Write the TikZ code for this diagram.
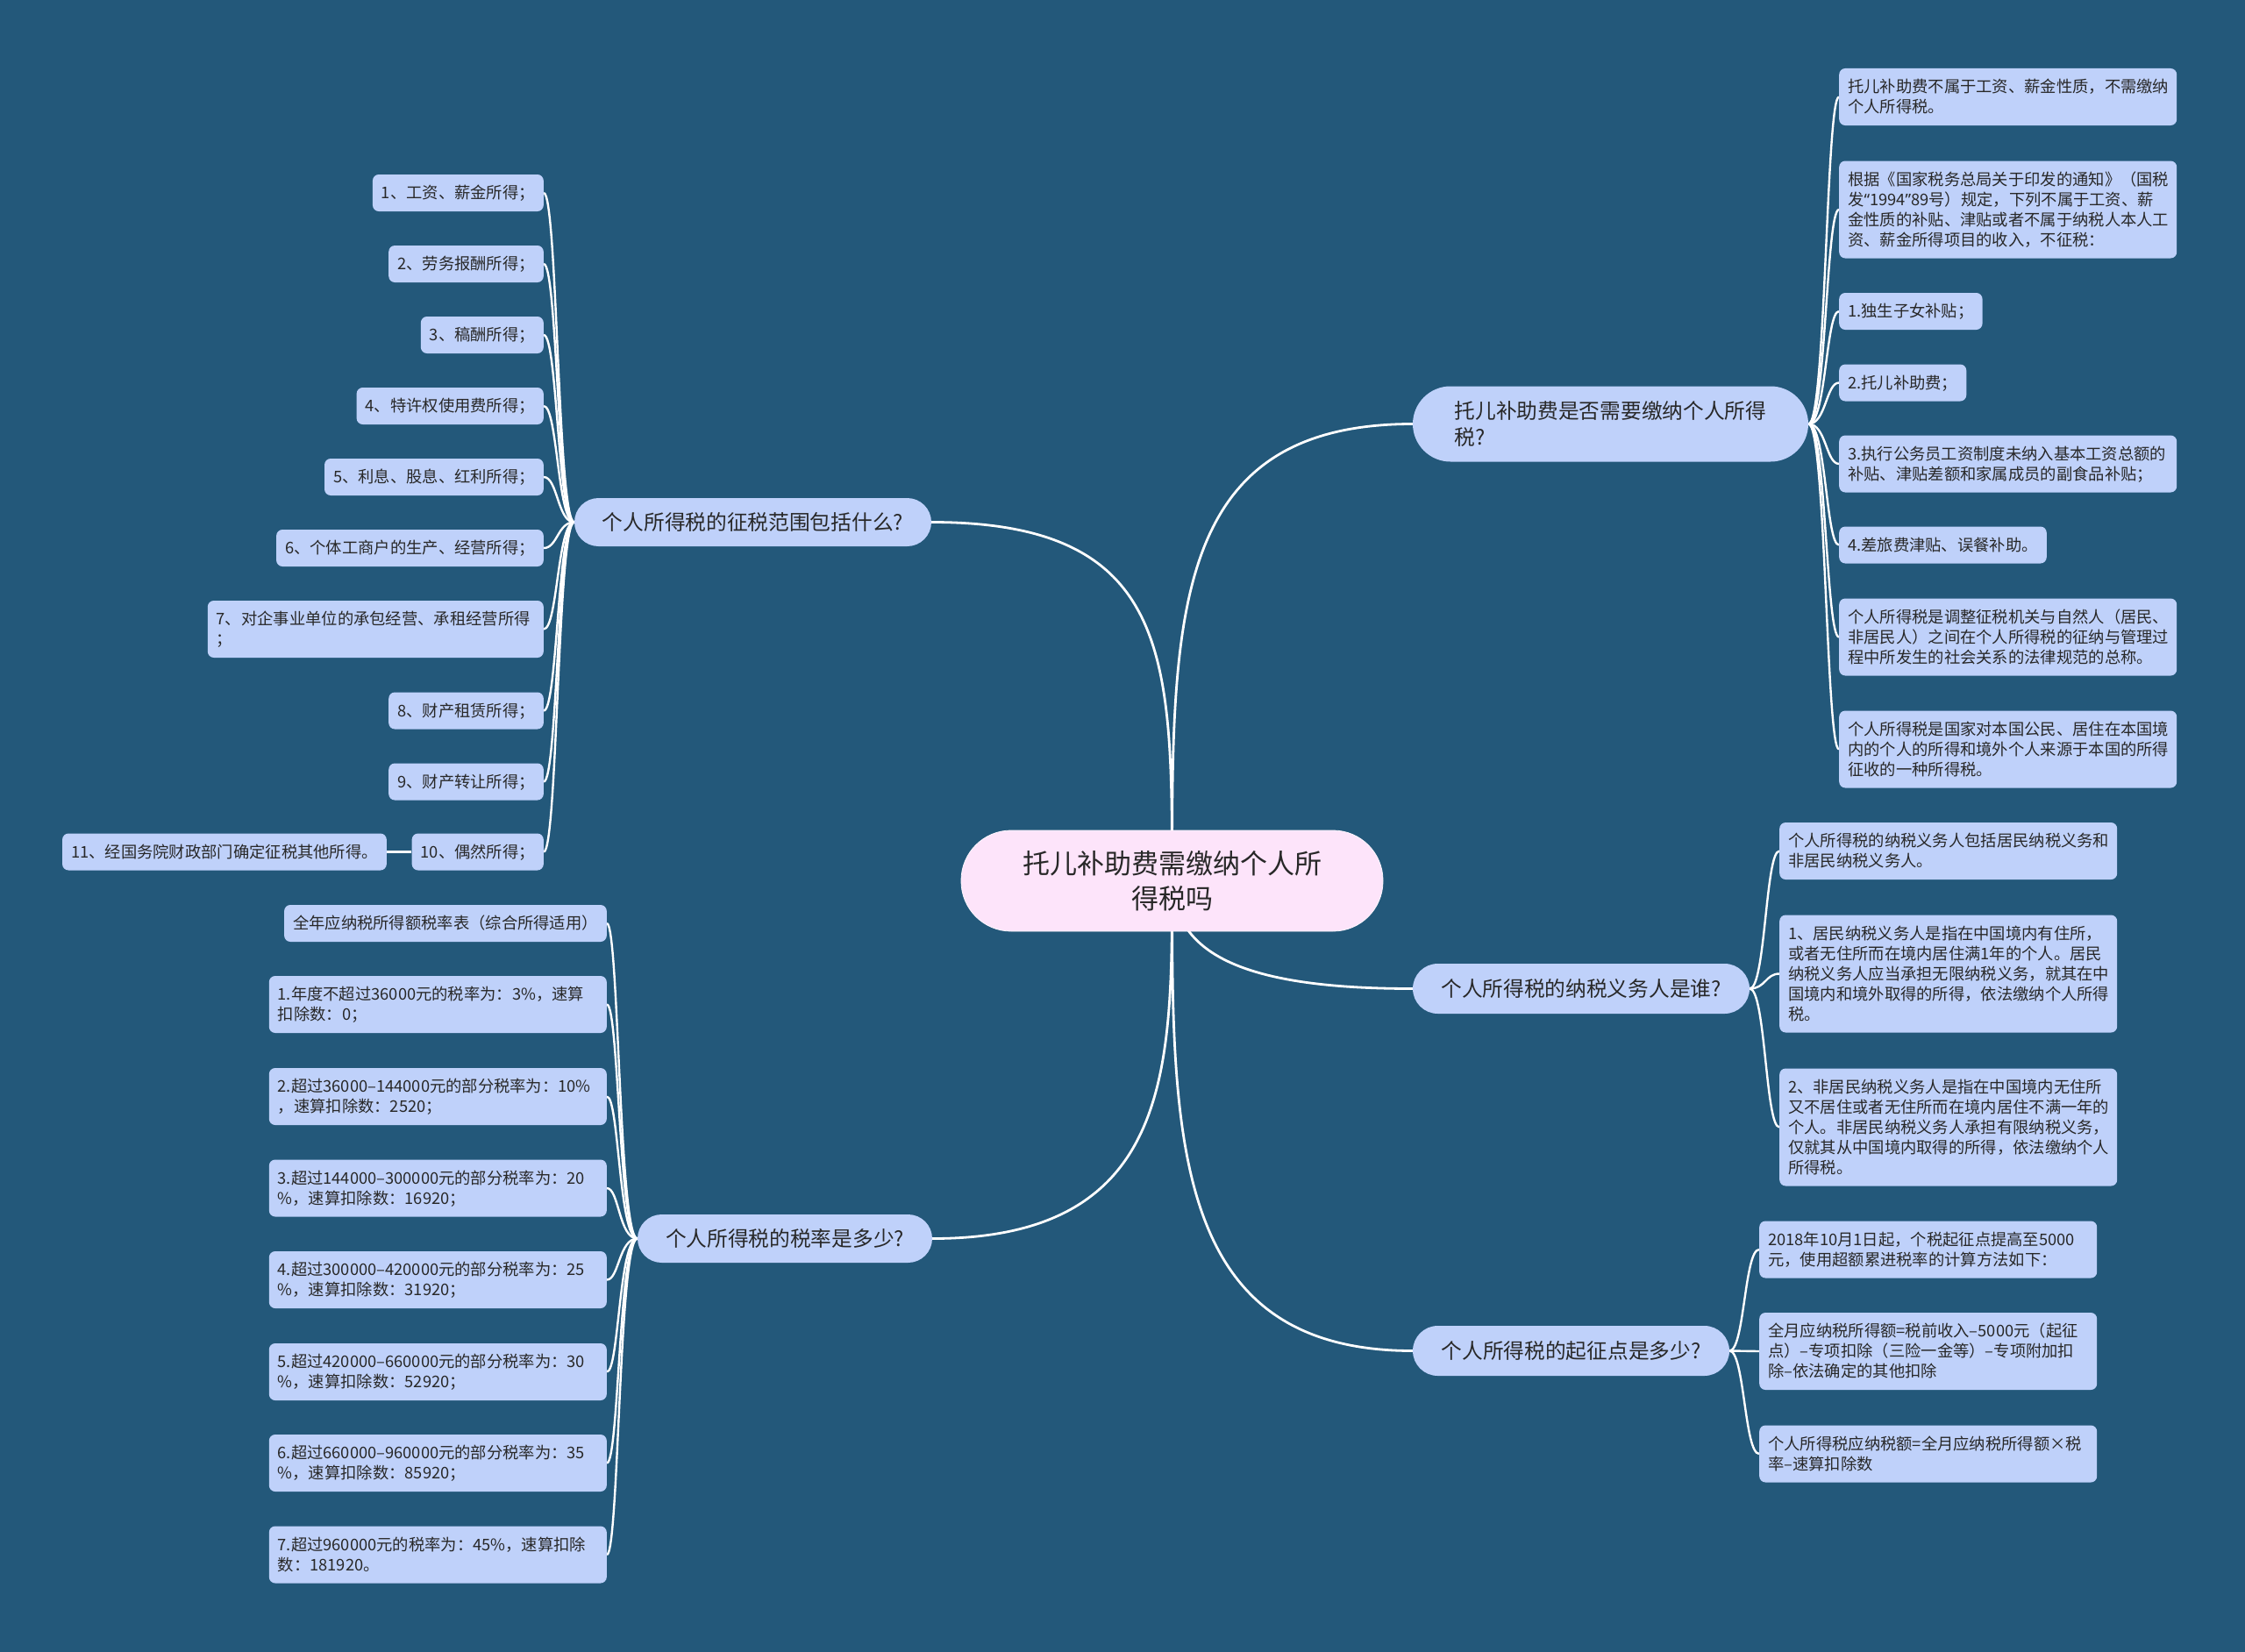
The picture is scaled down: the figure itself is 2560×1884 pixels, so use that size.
\documentclass[tikz,border=0pt]{standalone}
\usepackage{fontspec}
\setmainfont{Noto Sans CJK SC}
\newfontfamily\qfont{Noto Sans}
\usetikzlibrary{calc,backgrounds}
\definecolor{bgc}{RGB}{35,88,122}
\definecolor{leafc}{RGB}{191,209,250}
\definecolor{pinkc}{RGB}{253,228,250}
\definecolor{txtc}{RGB}{40,40,40}
\newcommand\lfont{\fontsize{18.3}{23}\selectfont}
\newcommand\brfont{\fontsize{23.7}{30}\selectfont}
\newcommand\ctfont{\fontsize{31}{40}\selectfont}
\newcommand\st{\vrule height 18pt depth 5pt width 0pt\relax}
\tikzset{
  leaf/.style={fill=leafc, rounded corners=7pt, inner xsep=10pt, inner ysep=9.5pt, font=\lfont, text=txtc, align=left},
  leafw/.style={leaf, text width=365pt},
  branch/.style={fill=leafc, inner sep=0pt, font=\brfont, text=txtc, align=left},
  ctr/.style={fill=pinkc, draw=white!70!pinkc, line width=0.8pt, inner sep=0pt, font=\ctfont, text=txtc, align=center,
    minimum width=481pt, minimum height=115pt, rounded corners=57pt},
  link/.style={draw=white, line width=2.8pt},
  sublink/.style={draw=white, line width=2.4pt},
}
\begin{document}
\begin{tikzpicture}[x=1pt,y=-1pt]
\useasboundingbox (0,0) rectangle (2560,1884);

% central
\node[ctr] (c) at (1336.5,1004.5) {托儿补助费需缴纳个人所\\得税吗};

% branches
\node[branch, minimum width=451pt, minimum height=86pt, rounded corners=43pt] (b1) at (1836.5,483.5) {托儿补助费是否需要缴纳个人所得\\税?};
\node[branch, minimum width=407pt, minimum height=55pt, rounded corners=27.5pt] (b2) at (858.5,595.5) {个人所得税的征税范围包括什么?};
\node[branch, minimum width=384pt, minimum height=57pt, rounded corners=28.5pt] (b3) at (1803,1127.5) {个人所得税的纳税义务人是谁?};
\node[branch, minimum width=361pt, minimum height=57pt, rounded corners=28.5pt] (b4) at (1791.5,1540.5) {个人所得税的起征点是多少?};
\node[branch, minimum width=336pt, minimum height=55pt, rounded corners=27.5pt] (b5) at (895,1412.5) {个人所得税的税率是多少?};

% right group 1
\node[leafw, anchor=west] (a1) at (2097,110.5) {\st 托儿补助费不属于工资、薪金性质，不需缴纳\\个人所得税。\st};
\node[leafw, anchor=west] (a2) at (2097,239) {\st 根据《国家税务总局关于印发的通知》（国税\\发{\qfont “}1994{\qfont ”}89号）规定，下列不属于工资、薪\\金性质的补贴、津贴或者不属于纳税人本人工\\资、薪金所得项目的收入，不征税：\st};
\node[leaf, anchor=west] (a3) at (2097,355) {\st 1.独生子女补贴；};
\node[leaf, anchor=west] (a4) at (2097,436.5) {\st 2.托儿补助费；};
\node[leafw, anchor=west] (a5) at (2097,529) {\st 3.执行公务员工资制度未纳入基本工资总额的\\补贴、津贴差额和家属成员的副食品补贴；\st};
\node[leaf, anchor=west] (a6) at (2097,621.5) {\st 4.差旅费津贴、误餐补助。};
\node[leafw, anchor=west] (a7) at (2097,726.5) {\st 个人所得税是调整征税机关与自然人（居民、\\非居民人）之间在个人所得税的征纳与管理过\\程中所发生的社会关系的法律规范的总称。\st};
\node[leafw, anchor=west] (a8) at (2097,854.5) {\st 个人所得税是国家对本国公民、居住在本国境\\内的个人的所得和境外个人来源于本国的所得\\征收的一种所得税。\st};

% right group 3
\node[leafw, anchor=west] (n1) at (2029,970.5) {\st 个人所得税的纳税义务人包括居民纳税义务和\\非居民纳税义务人。\st};
\node[leafw, anchor=west] (n2) at (2029,1110.5) {\st 1、居民纳税义务人是指在中国境内有住所，\\或者无住所而在境内居住满1年的个人。居民\\纳税义务人应当承担无限纳税义务，就其在中\\国境内和境外取得的所得，依法缴纳个人所得\\税。\st};
\node[leafw, anchor=west] (n3) at (2029,1285.5) {\st 2、非居民纳税义务人是指在中国境内无住所\\又不居住或者无住所而在境内居住不满一年的\\个人。非居民纳税义务人承担有限纳税义务，\\仅就其从中国境内取得的所得，依法缴纳个人\\所得税。\st};

% right group 4
\node[leafw, anchor=west] (q1) at (2006,1425) {\st 2018年10月1日起，个税起征点提高至5000\\元，使用超额累进税率的计算方法如下：\st};
\node[leafw, anchor=west] (q2) at (2006,1541) {\st 全月应纳税所得额=税前收入–5000元（起征\\点）–专项扣除（三险一金等）–专项附加扣\\除–依法确定的其他扣除\st};
\node[leafw, anchor=west] (q3) at (2006,1658) {\st 个人所得税应纳税额=全月应纳税所得额×税\\率–速算扣除数\st};

% left group 2
\node[leaf, anchor=east] (s1) at (620,220) {\st 1、工资、薪金所得；};
\node[leaf, anchor=east] (s2) at (620,301) {\st 2、劳务报酬所得；};
\node[leaf, anchor=east] (s3) at (620,382) {\st 3、稿酬所得；};
\node[leaf, anchor=east] (s4) at (620,463) {\st 4、特许权使用费所得；};
\node[leaf, anchor=east] (s5) at (620,544) {\st 5、利息、股息、红利所得；};
\node[leaf, anchor=east] (s6) at (620,625) {\st 6、个体工商户的生产、经营所得；};
\node[leafw, anchor=east, text width=363pt] (s7) at (620,717.5) {\st 7、对企事业单位的承包经营、承租经营所得\\；\st};
\node[leaf, anchor=east] (s8) at (620,810.5) {\st 8、财产租赁所得；};
\node[leaf, anchor=east] (s9) at (620,891.5) {\st 9、财产转让所得；};
\node[leaf, anchor=east] (s10) at (620,971.5) {\st 10、偶然所得；};
\node[leaf, anchor=east] (s11) at (441,971.5) {\st 11、经国务院财政部门确定征税其他所得。};

% left group 5
\node[leaf, anchor=east] (r0) at (692,1053) {\st 全年应纳税所得额税率表（综合所得适用）};
\node[leafw, anchor=east] (r1) at (692,1145.5) {\st 1.年度不超过36000元的税率为：3\%，速算\\扣除数：0；\st};
\node[leafw, anchor=east] (r2) at (692,1250.5) {\st 2.超过36000–144000元的部分税率为：10\%\\，速算扣除数：2520；\st};
\node[leafw, anchor=east] (r3) at (692,1355) {\st 3.超过144000–300000元的部分税率为：20\\\%，速算扣除数：16920；\st};
\node[leafw, anchor=east] (r4) at (692,1459.5) {\st 4.超过300000–420000元的部分税率为：25\\\%，速算扣除数：31920；\st};
\node[leafw, anchor=east] (r5) at (692,1564.5) {\st 5.超过420000–660000元的部分税率为：30\\\%，速算扣除数：52920；\st};
\node[leafw, anchor=east] (r6) at (692,1668.5) {\st 6.超过660000–960000元的部分税率为：35\\\%，速算扣除数：85920；\st};
\node[leafw, anchor=east] (r7) at (692,1773) {\st 7.超过960000元的税率为：45\%，速算扣除\\数：181920。\st};

\begin{scope}[on background layer]
\fill[bgc] (0,0) rectangle (2560,1884);
% main links
\draw[link] (c.center) .. controls (1336.5,700) and (1336.5,483.5) .. (b1.west);
\draw[link] (c.center) .. controls (1336.5,750) and (1336.5,595.5) .. (b2.east);
\draw[link] (c.center) .. controls (1340,1080) and (1400,1127.5) .. (b3.west);
\draw[link] (c.center) .. controls (1336.5,1300) and (1336.5,1540.5) .. (b4.west);
\draw[link] (c.center) .. controls (1336.5,1220) and (1336.5,1412.5) .. (b5.east);
% sub links
\coordinate (t1) at ($(b1.east)+(20,0)$);
\foreach \n in {a1,a2,a3,a4,a5,a6,a7,a8}
  \draw[sublink] (b1.east) .. controls (t1) and (t1 |- \n.west) .. (\n.west);
\coordinate (t3) at ($(b3.east)+(18,0)$);
\foreach \n in {n1,n2,n3}
  \draw[sublink] (b3.east) .. controls (t3) and (t3 |- \n.west) .. (\n.west);
\coordinate (t4) at ($(b4.east)+(17,0)$);
\foreach \n in {q1,q2,q3}
  \draw[sublink] (b4.east) .. controls (t4) and (t4 |- \n.west) .. (\n.west);
\coordinate (t2) at ($(b2.west)+(-19,0)$);
\foreach \n in {s1,s2,s3,s4,s5,s6,s7,s8,s9,s10}
  \draw[sublink] (b2.west) .. controls (t2) and (t2 |- \n.east) .. (\n.east);
\draw[sublink] (s10.west) -- (s11.east);
\coordinate (t5) at ($(b5.west)+(-21,0)$);
\foreach \n in {r0,r1,r2,r3,r4,r5,r6,r7}
  \draw[sublink] (b5.west) .. controls (t5) and (t5 |- \n.east) .. (\n.east);
\end{scope}
\end{tikzpicture}
\end{document}
